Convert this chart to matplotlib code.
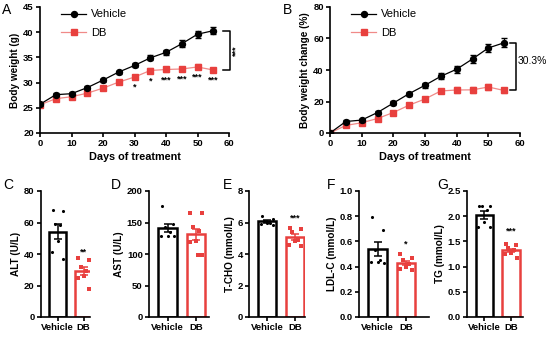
import numpy as np
import matplotlib.pyplot as plt

plt.rcParams['font.family'] = ['Liberation Sans', 'DejaVu Sans']
plt.rcParams['font.weight'] = 'bold'
plt.rcParams['axes.labelweight'] = 'bold'

RED = '#e8403e'
RED_LINE = '#f08a88'

# ---- time course data (panels A and B)
days = [0, 5, 10, 15, 20, 25, 30, 35, 40, 45, 50, 55]
bw_vehicle = [25.7, 27.6, 27.8, 29.0, 30.5, 32.1, 33.4, 34.9, 36.0, 37.7, 39.6, 40.3]
bw_vehicle_err = [0.3, 0.3, 0.3, 0.3, 0.3, 0.3, 0.4, 0.5, 0.5, 0.7, 0.7, 0.7]
bw_db = [25.6, 26.8, 27.2, 27.9, 28.9, 30.1, 31.1, 32.4, 32.6, 32.7, 33.1, 32.5]
bw_db_err = [0.3, 0.3, 0.3, 0.3, 0.3, 0.3, 0.4, 0.4, 0.4, 0.4, 0.5, 0.4]
bw_stars = ['', '', '', '', '', '', '*', '*', '***', '***', '***', '***']

chg_vehicle = [0, 7.3, 8.2, 13.0, 19.0, 25.0, 30.3, 36.0, 40.5, 47.0, 54.0, 57.3]
chg_vehicle_err = [0.8, 1.0, 1.0, 1.1, 1.2, 1.3, 1.5, 1.8, 2.2, 2.6, 2.8, 3.0]
chg_db = [0, 4.8, 6.5, 9.2, 13.0, 17.7, 21.6, 26.7, 27.3, 27.4, 29.2, 27.0]
chg_db_err = [0.8, 0.9, 1.0, 1.0, 1.1, 1.2, 1.4, 1.5, 1.6, 1.7, 1.8, 1.8]

# ---- serum biochemistry (panels C-G)
groups = ['Vehicle', 'DB']
alt_vehicle = [68, 67, 59, 58.5, 48.5, 41, 37]
alt_db = [37.5, 36, 31.5, 29.5, 26, 25, 17.5]
ast_vehicle = [176, 147, 143, 135, 129, 128, 128]
ast_db = [165, 165, 143, 137, 121, 119, 99, 99]
tcho_vehicle = [6.4, 6.25, 6.1, 6.0, 5.95, 5.9, 5.85]
tcho_db = [5.67, 5.6, 5.4, 4.9, 4.85, 4.6, 4.5]
ldl_vehicle = [0.79, 0.69, 0.53, 0.45, 0.44, 0.44, 0.43]
ldl_db = [0.50, 0.47, 0.45, 0.42, 0.40, 0.38, 0.37]
tg_vehicle = [2.21, 2.2, 2.2, 2.13, 1.88, 1.79, 1.79]
tg_db = [1.44, 1.42, 1.37, 1.32, 1.27, 1.25, 1.18]

fig = plt.figure(figsize=(5.5, 3.37), dpi=100)
W, H = 550, 337


def px_axes(l, t, r, b):
    return fig.add_axes([l / W, 1 - b / H, (r - l) / W, (b - t) / H])


def style(ax):
    for s in ['top', 'right']:
        ax.spines[s].set_visible(False)
    for s in ['left', 'bottom']:
        ax.spines[s].set_linewidth(1.2)
    ax.tick_params(direction='out', length=3, width=1.2, labelsize=6.8, pad=1.5)
    for lab in ax.get_xticklabels() + ax.get_yticklabels():
        lab.set_fontweight('bold')


def line_panel(ax, yv, ev, yd, ed):
    ax.errorbar(days, yv, yerr=ev, fmt='none', ecolor='black', capsize=2.2,
                elinewidth=0.9, zorder=3)
    ax.plot(days, yv, color='black', lw=0.9, marker='o', ms=4.3, label='Vehicle', zorder=4)
    ax.errorbar(days, yd, yerr=ed, fmt='none', ecolor=RED_LINE, capsize=2.2,
                elinewidth=0.9, zorder=2)
    ax.plot(days, yd, color=RED_LINE, lw=0.9, marker='s', ms=4.8, mfc=RED, mec=RED,
            label='DB', zorder=2)
    ax.set_xlim(0, 60)
    ax.set_xticks(range(0, 61, 10))
    ax.set_xlabel('Days of treatment', fontsize=7.8, labelpad=3)
    leg = ax.legend(loc='upper left', bbox_to_anchor=(0.06, 1.06), frameon=False,
                    fontsize=8, handlelength=2.2, labelspacing=0.75, handletextpad=0.5)
    for t in leg.get_texts():
        t.set_fontweight('normal')
    style(ax)


# panel A
axA = px_axes(40, 7, 229, 133)
line_panel(axA, bw_vehicle, bw_vehicle_err, bw_db, bw_db_err)
axA.set_ylim(20, 45)
axA.set_yticks(range(20, 46, 5))
axA.set_ylabel('Body weight (g)', fontsize=7.2, labelpad=2)
for d, v, s in zip(days, bw_db, bw_stars):
    if s:
        axA.text(d, v - 2.0, s, ha='center', va='center', fontsize=6.5)
axA.plot([58.2, 60.3, 60.3, 58.2], [bw_vehicle[-1], bw_vehicle[-1], bw_db[-1], bw_db[-1]],
         color='black', lw=1.1, clip_on=False)
axA.text(62.3, (bw_vehicle[-1] + bw_db[-1]) / 2, '***', rotation=90, ha='center',
         va='center', fontsize=6.5)

# panel B
axB = px_axes(330, 7, 520, 133)
line_panel(axB, chg_vehicle, chg_vehicle_err, chg_db, chg_db_err)
axB.set_ylim(0, 80)
axB.set_yticks(range(0, 81, 20))
axB.set_ylabel('Body weight change (%)', fontsize=7.2, labelpad=2)
axB.plot([56.8, 58.7, 58.7, 56.8], [chg_vehicle[-1], chg_vehicle[-1], chg_db[-1], chg_db[-1]],
         color='black', lw=1.1, clip_on=False)
axB.text(59.4, (chg_vehicle[-1] + chg_db[-1]) / 2 + 3.5, '30.3%', ha='left', va='center',
         fontsize=7.5, fontweight='normal')


def bar_panel(ax, veh, db, ylim, yticks, ylabel, star, right=1.45, fmt=None):
    offs = [-0.2, 0.2, -0.1, 0.1, 0.0, -0.22, 0.22, 0.05]
    for i, (vals, col, mk) in enumerate([(veh, 'black', 'o'), (db, RED, 's')]):
        vals = np.array(vals)
        m = vals.mean()
        sem = vals.std(ddof=1) / np.sqrt(len(vals))
        ax.bar(i, m, width=0.65, facecolor='white', edgecolor=col, linewidth=1.8, zorder=1)
        ax.errorbar(i, m, yerr=sem, color=col, capsize=3, elinewidth=1.1,
                    capthick=1.1, zorder=3)
        ax.scatter(i + np.array(offs[:len(vals)]), vals, s=5, color=col, marker=mk,
                   zorder=4, linewidths=0)
    if star:
        ax.text(1, np.mean(db) + (ylim[1] - ylim[0]) * 0.155, star, ha='center',
                va='center', fontsize=6.5, color='black')
    ax.set_xlim(-0.65, right)
    ax.set_ylim(*ylim)
    ax.set_yticks(yticks)
    if fmt:
        ax.set_yticklabels([fmt.format(t) for t in yticks])
    ax.set_xticks([0, 1])
    ax.set_xticklabels(groups)
    ax.set_ylabel(ylabel, fontsize=7.2, labelpad=2)
    style(ax)


axC = px_axes(41, 191, 90, 317)
bar_panel(axC, alt_vehicle, alt_db, (0, 80), [0, 20, 40, 60, 80], 'ALT (U/L)', '**', right=1.25)
axD = px_axes(149, 191, 209, 317)
bar_panel(axD, ast_vehicle, ast_db, (0, 200), [0, 50, 100, 150, 200], 'AST (U/L)', '')
axE = px_axes(249, 191, 305, 317)
bar_panel(axE, tcho_vehicle, tcho_db, (0, 8), [0, 2, 4, 6, 8], 'T-CHO (mmol/L)', '***', right=1.35)
axF = px_axes(359, 191, 429, 317)
bar_panel(axF, ldl_vehicle, ldl_db, (0, 1.0), [0, 0.2, 0.4, 0.6, 0.8, 1.0], 'LDL-C (mmol/L)',
          '*', right=1.8, fmt='{:.1f}')
axG = px_axes(467, 191, 523, 317)
bar_panel(axG, tg_vehicle, tg_db, (0, 2.5), [0, 0.5, 1.0, 1.5, 2.0, 2.5], 'TG (mmol/L)',
          '***', right=1.45, fmt='{:.1f}')

for lbl, x, y in [('A', 2, 3), ('B', 283, 3), ('C', 3, 178), ('D', 111, 178),
                  ('E', 223, 178), ('F', 327, 178), ('G', 437, 178)]:
    fig.text(x / W, 1 - y / H, lbl, ha='left', va='top', fontsize=10, fontweight='normal')

fig.savefig('out.png', dpi=100)
